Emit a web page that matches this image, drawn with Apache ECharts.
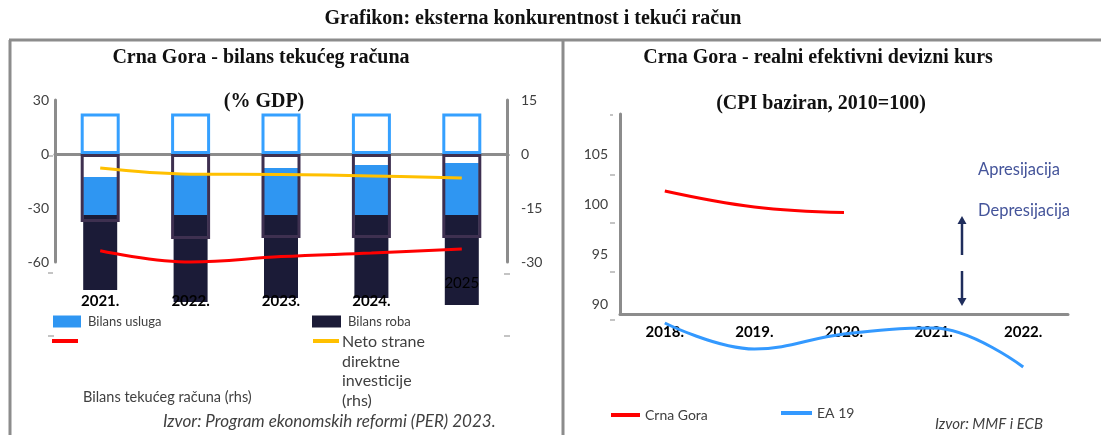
<!DOCTYPE html>
<html>
<head>
<meta charset="utf-8">
<script src="https://cdn.jsdelivr.net/npm/echarts@6/dist/echarts.min.js"></script>
<style>
html,body{margin:0;padding:0;background:#fff;}
#c{width:1101px;height:435px;}
</style>
</head>
<body>
<div id="c"></div>
<script>
// ---- Left chart data: Crna Gora - bilans tekućeg računa (% GDP) ----
const leftCats = ['2021.', '2022.', '2023.', '2024.', '2025'];
const servicesOutline = [22.5, 22.5, 22.5, 22.5, 22.5];          // hollow blue bars (lhs)
const goodsOutline = [-37.8, -47.2, -46.7, -46.7, -46.7];        // hollow dark bars (lhs)
const servicesFillTop = [-12.8, -11.7, -7.8, -6.1, -5.0];        // filled blue bar top (lhs)
const fillSplit = [-33.9, -33.9, -33.9, -33.9, -33.9];           // blue / dark boundary (lhs)
const goodsFillBottom = [-75.6, -82.2, -80.0, -80.0, -83.9];     // filled dark bar bottom (lhs)
const currentAccount = [-26.9, -30.0, -28.5, -27.5, -26.4];      // rhs
const fdi = [-3.9, -5.6, -5.7, -6.1, -6.7];                      // rhs
const leftAxisTicks = { min: -60, max: 30, interval: 30 };
const rightAxisTicks = { min: -30, max: 15, interval: 15 };

// ---- Right chart data: realni efektivni devizni kurs (CPI, 2010=100) ----
const rightCats = ['2018.', '2019.', '2020.', '2021.', '2022.'];
const crnaGora = [101.3, 99.7, 99.15, null, null];
const ea19 = [88.1, 85.5, 87.0, 87.6, 83.7];
const reerAxis = { min: 89, max: 109 };

const servicesFill = fillSplit.map((v, i) => +(v - servicesFillTop[i]).toFixed(2));
const goodsFill = goodsFillBottom.map((v, i) => +(v - fillSplit[i]).toFixed(2));

const GREY = '#8c8c8c';
const TXT = '#404040';
const SANS = 'Lato';
const SERIF = '"Liberation Serif", "Times New Roman", serif';

const leftCatData = leftCats.map((c, i) => i === leftCats.length - 1
  ? { value: c, textStyle: { fontWeight: 'normal', verticalAlign: 'bottom', padding: [0, 0, 3, 0] } }
  : c);

const chart = echarts.init(document.getElementById('c'), null, { renderer: 'canvas' });

function txt(x, y, text, font, fill, align, valign, extra) {
  return {
    type: 'text', x: x, y: y, silent: true, z: 100,
    style: Object.assign({
      text: text, font: font, fill: fill,
      align: align, textAlign: align,
      verticalAlign: valign, textVerticalAlign: valign
    }, extra || {})
  };
}
function dash(x1, y, x2) {
  return { type: 'line', silent: true, shape: { x1: x1, y1: y, x2: x2, y2: y }, style: { stroke: '#c4c4c4', lineWidth: 2 } };
}

const legendBase = { padding: 0, selectedMode: false, icon: 'rect' };

const option = {
  animation: false,
  backgroundColor: '#fff',
  grid: [
    { left: 55, right: 594, top: 100, bottom: 173 },
    { left: 620, right: 33, top: 114, bottom: 121 }
  ],
  xAxis: [
    { gridIndex: 0, type: 'category', data: leftCatData, position: 'bottom', z: 20,
      axisLine: { show: false }, axisTick: { show: false },
      axisLabel: { interval: 0, margin: 32, fontWeight: 'bold', fontSize: 15, color: '#000', fontFamily: SANS } },
    { gridIndex: 0, type: 'category', data: leftCats, position: 'bottom',
      axisLine: { show: true, onZero: true, lineStyle: { color: GREY, width: 3 } },
      axisTick: { show: false }, axisLabel: { show: false } },
    { gridIndex: 1, type: 'category', data: rightCats, position: 'bottom',
      axisLine: { show: true, onZero: false, lineStyle: { color: GREY, width: 3 } },
      axisTick: { show: false },
      axisLabel: { interval: 0, margin: 11, fontWeight: 'bold', fontSize: 15, color: '#000', fontFamily: SANS } }
  ],
  yAxis: [
    { gridIndex: 0, type: 'value', position: 'left', min: leftAxisTicks.min, max: leftAxisTicks.max, interval: leftAxisTicks.interval,
      axisLine: { show: true, lineStyle: { color: GREY, width: 3 } }, axisTick: { show: false }, splitLine: { show: false },
      axisLabel: { margin: 6, fontSize: 14, color: TXT, fontFamily: SANS } },
    { gridIndex: 0, type: 'value', position: 'right', min: rightAxisTicks.min, max: rightAxisTicks.max, interval: rightAxisTicks.interval,
      axisLine: { show: true, lineStyle: { color: GREY, width: 3 } }, axisTick: { show: false }, splitLine: { show: false },
      axisLabel: { margin: 14, fontSize: 14, color: TXT, fontFamily: SANS } },
    { gridIndex: 1, type: 'value', position: 'left', min: reerAxis.min, max: reerAxis.max,
      axisLine: { show: true, lineStyle: { color: GREY, width: 3 } }, axisTick: { show: false }, splitLine: { show: false },
      axisLabel: { margin: 12, fontSize: 14, color: TXT, fontFamily: SANS, showMinLabel: false, showMaxLabel: false } }
  ],
  legend: [
    Object.assign({ data: ['Bilans usluga'], left: 53, top: 315, itemWidth: 28, itemHeight: 12, itemGap: 0,
      textStyle: { fontSize: 13, color: TXT, fontFamily: SANS, padding: [3, 0, 0, 2] } }, legendBase),
    Object.assign({ data: ['Bilans roba'], left: 312, top: 315, itemWidth: 29, itemHeight: 12,
      textStyle: { fontSize: 13, color: TXT, fontFamily: SANS, padding: [3, 0, 0, 2] } }, legendBase),
    Object.assign({ data: ['Bilans tekućeg računa (rhs)'], left: 52, top: 339, itemWidth: 26, itemHeight: 4,
      formatter: function () { return ''; }, textStyle: { fontSize: 4 } }, legendBase),
    Object.assign({ data: ['Neto strane direktne investicije (rhs)'], left: 313, top: 339, itemWidth: 26, itemHeight: 4,
      formatter: function () { return ''; }, textStyle: { fontSize: 4 } }, legendBase),
    Object.assign({ data: ['Crna Gora'], left: 611, top: 408, itemWidth: 29, itemHeight: 4,
      textStyle: { fontSize: 14, color: TXT, fontFamily: SANS } }, legendBase),
    Object.assign({ data: ['EA 19'], left: 781, top: 406, itemWidth: 31, itemHeight: 4,
      textStyle: { fontSize: 14, color: TXT, fontFamily: SANS } }, legendBase)
  ],
  series: [
    { name: '_base', type: 'bar', xAxisIndex: 0, yAxisIndex: 0, stack: 'fill', barWidth: 34, silent: true, clip: false,
      data: servicesFillTop, itemStyle: { color: 'rgba(0,0,0,0)' } },
    { name: 'Bilans usluga', type: 'bar', xAxisIndex: 0, yAxisIndex: 0, stack: 'fill', barWidth: 34, clip: false,
      data: servicesFill, itemStyle: { color: '#2f96f2' } },
    { name: 'Bilans roba', type: 'bar', xAxisIndex: 0, yAxisIndex: 0, stack: 'fill', barWidth: 34, clip: false,
      data: goodsFill, itemStyle: { color: '#1b1b37' } },
    { name: '_usluga_okvir', type: 'bar', xAxisIndex: 1, yAxisIndex: 0, stack: 'okvir', barWidth: 39, clip: false, silent: true,
      data: servicesOutline, itemStyle: { color: 'rgba(255,255,255,0)', borderColor: '#35a0ff', borderWidth: 3 } },
    { name: '_roba_okvir', type: 'bar', xAxisIndex: 1, yAxisIndex: 0, stack: 'okvir', barWidth: 39, clip: false, silent: true,
      data: goodsOutline, itemStyle: { color: 'rgba(255,255,255,0)', borderColor: '#3e3050', borderWidth: 3 } },
    { name: 'Bilans tekućeg računa (rhs)', type: 'line', xAxisIndex: 0, yAxisIndex: 1, data: currentAccount, smooth: 0.4,
      symbol: 'none', clip: false, z: 5, lineStyle: { color: '#ff0000', width: 3 }, itemStyle: { color: '#ff0000' } },
    { name: 'Neto strane direktne investicije (rhs)', type: 'line', xAxisIndex: 0, yAxisIndex: 1, data: fdi, smooth: 0.4,
      symbol: 'none', clip: false, z: 5, lineStyle: { color: '#ffc000', width: 3 }, itemStyle: { color: '#ffc000' } },
    { name: 'Crna Gora', type: 'line', xAxisIndex: 2, yAxisIndex: 2, data: crnaGora, smooth: 0.4, symbol: 'none', clip: false,
      lineStyle: { color: '#ff0000', width: 3 }, itemStyle: { color: '#ff0000' } },
    { name: 'EA 19', type: 'line', xAxisIndex: 2, yAxisIndex: 2, data: ea19, smooth: 0.4, symbol: 'none', clip: false,
      lineStyle: { color: '#3399ff', width: 3 }, itemStyle: { color: '#3399ff' } }
  ],
  graphic: [
    // panel frame
    { type: 'line', silent: true, shape: { x1: 9, y1: 40, x2: 1101, y2: 40 }, style: { stroke: GREY, lineWidth: 3 } },
    { type: 'line', silent: true, shape: { x1: 10, y1: 40, x2: 10, y2: 435 }, style: { stroke: GREY, lineWidth: 3 } },
    { type: 'line', silent: true, shape: { x1: 563, y1: 40, x2: 563, y2: 435 }, style: { stroke: GREY, lineWidth: 3 } },
    // stray small tick dashes of the original plot area
    dash(48, 156, 53), dash(48, 273, 53), dash(48, 336, 54),
    dash(504, 155, 510), dash(504, 274, 510), dash(504, 336, 510),
    dash(610, 115, 613), dash(610, 175, 615), dash(610, 223, 615), dash(610, 272, 615), dash(610, 320, 615),
    // titles
    txt(533, 19, 'Grafikon: eksterna konkurentnost i tekući račun', 'bold 20px ' + SERIF, '#111', 'center', 'middle'),
    txt(261, 58, 'Crna Gora - bilans tekućeg računa', 'bold 20px ' + SERIF, '#111', 'center', 'middle'),
    txt(264, 102, '(% GDP)', 'bold 20px ' + SERIF, '#111', 'center', 'middle'),
    txt(818, 58, 'Crna Gora - realni efektivni devizni kurs', 'bold 20px ' + SERIF, '#111', 'center', 'middle'),
    txt(821, 104, '(CPI baziran, 2010=100)', 'bold 20px ' + SERIF, '#111', 'center', 'middle'),
    // left legend texts
    txt(83, 397, 'Bilans tekućeg računa (rhs)', '14.5px ' + SANS, TXT, 'left', 'middle'),
    txt(342, 332, 'Neto strane\ndirektne\ninvesticije\n(rhs)', '16px ' + SANS, TXT, 'left', 'top', { lineHeight: 19.7 }),
    txt(163, 422, 'Izvor: Program ekonomskih reformi (PER) 2023.', 'italic 17px ' + SANS, TXT, 'left', 'middle'),
    // right annotations
    txt(978, 170, 'Apresijacija', '16.5px ' + SANS, '#44549a', 'left', 'middle'),
    txt(978, 211, 'Depresijacija', '16.5px ' + SANS, '#44549a', 'left', 'middle'),
    { type: 'line', silent: true, shape: { x1: 962, y1: 255, x2: 962, y2: 222 }, style: { stroke: '#1f2d5c', lineWidth: 2.5 } },
    { type: 'polygon', silent: true, shape: { points: [[962, 216], [957.5, 224], [966.5, 224]] }, style: { fill: '#1f2d5c' } },
    { type: 'line', silent: true, shape: { x1: 962, y1: 271, x2: 962, y2: 299 }, style: { stroke: '#1f2d5c', lineWidth: 2.5 } },
    { type: 'polygon', silent: true, shape: { points: [[962, 306], [957.5, 298], [966.5, 298]] }, style: { fill: '#1f2d5c' } },
    txt(935, 424, 'Izvor: MMF i ECB', 'italic 15px ' + SANS, TXT, 'left', 'middle')
  ]
};
chart.setOption(option);
</script>
</body>
</html>
